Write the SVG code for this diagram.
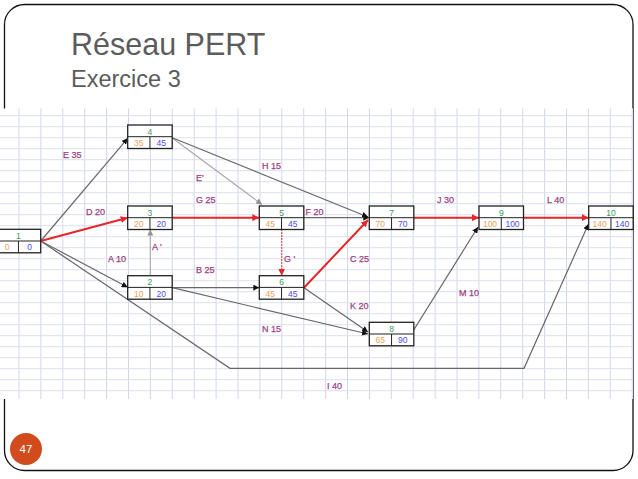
<svg xmlns="http://www.w3.org/2000/svg" width="638" height="479" viewBox="0 0 638 479">
<style>
.title{font-family:"Liberation Sans",Arial,sans-serif;fill:#5c5c5c}
.lbl{font-family:"Liberation Sans",Arial,sans-serif;font-size:9px;fill:#9c4384;stroke:#9c4384;stroke-width:0.25}
.box{fill:#fff;stroke:#222;stroke-width:1.3}
.in{stroke:#222;stroke-width:1}
.num{font-family:"Liberation Sans",Arial,sans-serif;font-size:8.5px;fill:#3a9a5e;text-anchor:middle}
.es{font-family:"Liberation Sans",Arial,sans-serif;font-size:8.5px;fill:#f0a05a;text-anchor:middle}
.ls{font-family:"Liberation Sans",Arial,sans-serif;font-size:8.5px;fill:#4b4bee;text-anchor:middle}
.g{fill:none;stroke:#686868;stroke-width:1.2}
.lg{fill:none;stroke:#a8a8a8;stroke-width:1.1}
.r{fill:none;stroke:#e5262b;stroke-width:2}
.rd{fill:none;stroke:#e5262b;stroke-width:1.2;stroke-dasharray:1.5 1.5}
</style>
<defs>
<pattern id="grid" patternUnits="userSpaceOnUse" x="18.5" y="115.2" width="21.9" height="11">
<path d="M0.5,0 V11" stroke="#d2d6e8" stroke-width="1"/>
<path d="M0,0.5 H21.9" stroke="#dcdfec" stroke-width="1"/>
</pattern>
<marker id="ab" viewBox="0 0 6 6" refX="6" refY="3" markerWidth="6" markerHeight="6" markerUnits="userSpaceOnUse" orient="auto"><path d="M0,0 L6,3 L0,6 z" fill="#111"/></marker>
<marker id="ag" viewBox="0 0 6 6" refX="6" refY="3" markerWidth="6" markerHeight="6" markerUnits="userSpaceOnUse" orient="auto"><path d="M0,0 L6,3 L0,6 z" fill="#909090"/></marker>
<marker id="ar" viewBox="0 0 6 6" refX="6" refY="3" markerWidth="7" markerHeight="7" markerUnits="userSpaceOnUse" orient="auto"><path d="M0,0 L6,3 L0,6 z" fill="#e5262b"/></marker>
</defs>
<rect width="638" height="479" fill="#fff"/>
<rect x="4.5" y="4.5" width="628.5" height="466" rx="20" ry="20" fill="none" stroke="#111" stroke-width="1.3"/>
<text class="title" x="71" y="55" font-size="30.5">Réseau PERT</text>
<text class="title" x="71" y="87.3" font-size="23.5">Exercice 3</text>
<rect x="0" y="108.5" width="633" height="290.5" fill="#fff"/>
<rect x="0" y="108.5" width="633" height="290.5" fill="url(#grid)"/>
<g id="connectors">
<path class="g" d="M40.7,241 L127.7,138.3" marker-end="url(#ab)"/>
<path class="g" d="M40.7,241 L127.7,287.3" marker-end="url(#ab)"/>
<path class="g" d="M40.7,241 L230,368.3 L524,368.3 L588.5,224" marker-end="url(#ab)"/>
<path class="lg" d="M150.3,275.7 L150.3,229.5" marker-end="url(#ag)"/>
<path class="lg" d="M172.3,138 L262,204.5" marker-end="url(#ag)"/>
<path class="g" d="M172.3,137.7 L368,217" marker-end="url(#ab)"/>
<path class="g" d="M172.3,287.7 L259.3,287.7" marker-end="url(#ab)"/>
<path class="g" d="M172.3,287.7 L368,334" marker-end="url(#ab)"/>
<path class="g" d="M304,217.7 L369.3,217.7" marker-end="url(#ab)"/>
<path class="g" d="M304,287.7 L368,332" marker-end="url(#ab)"/>
<path class="g" d="M413.7,330 L478,227" marker-end="url(#ab)"/>
<path class="r" d="M40.7,241 L127.7,217.7" marker-end="url(#ar)"/>
<path class="r" d="M172.3,217.7 L259.3,217.7" marker-end="url(#ar)"/>
<path class="rd" d="M281.7,229.3 L281.7,275.7" marker-end="url(#ar)"/>
<path class="r" d="M304,287.7 L368,220" marker-end="url(#ar)"/>
<path class="r" d="M413.3,217.7 L479,217.7" marker-end="url(#ar)"/>
<path class="r" d="M523.3,217.7 L588.7,217.7" marker-end="url(#ar)"/>
</g>
<g id="labels">
<text class="lbl" x="63" y="158">E 35</text>
<text class="lbl" x="86" y="215">D 20</text>
<text class="lbl" x="108" y="261.5">A 10</text>
<text class="lbl" x="152" y="249.5">A '</text>
<text class="lbl" x="196" y="203">G 25</text>
<text class="lbl" x="196" y="181">E'</text>
<text class="lbl" x="196" y="273">B 25</text>
<text class="lbl" x="262" y="169">H 15</text>
<text class="lbl" x="305.5" y="215">F 20</text>
<text class="lbl" x="284" y="262">G '</text>
<text class="lbl" x="262" y="332">N 15</text>
<text class="lbl" x="350" y="262">C 25</text>
<text class="lbl" x="350" y="308.5">K 20</text>
<text class="lbl" x="459" y="296">M 10</text>
<text class="lbl" x="327" y="389">I 40</text>
<text class="lbl" x="437" y="203">J 30</text>
<text class="lbl" x="547" y="203">L 40</text>
</g>
<g id="node1" transform="translate(-3.8,229.3)"><rect class="box" width="44.5" height="23.5"/><path class="in" d="M0,11.7 H44.5 M22.25,11.7 V23.5"/><text class="num" x="22.25" y="9.5">1</text><text class="es" x="11" y="21">0</text><text class="ls" x="33.5" y="21">0</text></g>
<g id="node2" transform="translate(127.7,275.7)"><rect class="box" width="44.5" height="23.5"/><path class="in" d="M0,11.7 H44.5 M22.25,11.7 V23.5"/><text class="num" x="22.25" y="9.5">2</text><text class="es" x="11" y="21">10</text><text class="ls" x="33.5" y="21">20</text></g>
<g id="node3" transform="translate(127.7,206)"><rect class="box" width="44.5" height="23.5"/><path class="in" d="M0,11.7 H44.5 M22.25,11.7 V23.5"/><text class="num" x="22.25" y="9.5">3</text><text class="es" x="11" y="21">20</text><text class="ls" x="33.5" y="21">20</text></g>
<g id="node4" transform="translate(127.7,125)"><rect class="box" width="44.5" height="23.5"/><path class="in" d="M0,11.7 H44.5 M22.25,11.7 V23.5"/><text class="num" x="22.25" y="9.5">4</text><text class="es" x="11" y="21">35</text><text class="ls" x="33.5" y="21">45</text></g>
<g id="node5" transform="translate(259.3,206)"><rect class="box" width="44.5" height="23.5"/><path class="in" d="M0,11.7 H44.5 M22.25,11.7 V23.5"/><text class="num" x="22.25" y="9.5">5</text><text class="es" x="11" y="21">45</text><text class="ls" x="33.5" y="21">45</text></g>
<g id="node6" transform="translate(259.3,275.7)"><rect class="box" width="44.5" height="23.5"/><path class="in" d="M0,11.7 H44.5 M22.25,11.7 V23.5"/><text class="num" x="22.25" y="9.5">6</text><text class="es" x="11" y="21">45</text><text class="ls" x="33.5" y="21">45</text></g>
<g id="node7" transform="translate(369.3,206)"><rect class="box" width="44.5" height="23.5"/><path class="in" d="M0,11.7 H44.5 M22.25,11.7 V23.5"/><text class="num" x="22.25" y="9.5">7</text><text class="es" x="11" y="21">70</text><text class="ls" x="33.5" y="21">70</text></g>
<g id="node8" transform="translate(369.3,322.3)"><rect class="box" width="44.5" height="23.5"/><path class="in" d="M0,11.7 H44.5 M22.25,11.7 V23.5"/><text class="num" x="22.25" y="9.5">8</text><text class="es" x="11" y="21">65</text><text class="ls" x="33.5" y="21">90</text></g>
<g id="node9" transform="translate(479,206)"><rect class="box" width="44.5" height="23.5"/><path class="in" d="M0,11.7 H44.5 M22.25,11.7 V23.5"/><text class="num" x="22.25" y="9.5">9</text><text class="es" x="11" y="21">100</text><text class="ls" x="33.5" y="21">100</text></g>
<g id="node10" transform="translate(588.7,206)"><rect class="box" width="44.5" height="23.5"/><path class="in" d="M0,11.7 H44.5 M22.25,11.7 V23.5"/><text class="num" x="22.25" y="9.5">10</text><text class="es" x="11" y="21">140</text><text class="ls" x="33.5" y="21">140</text></g>
<circle cx="26" cy="449" r="16" fill="#d14b1c"/>
<text x="26" y="453" font-family="Liberation Sans,Arial,sans-serif" font-size="11.5" fill="#fff" text-anchor="middle">47</text>
</svg>
